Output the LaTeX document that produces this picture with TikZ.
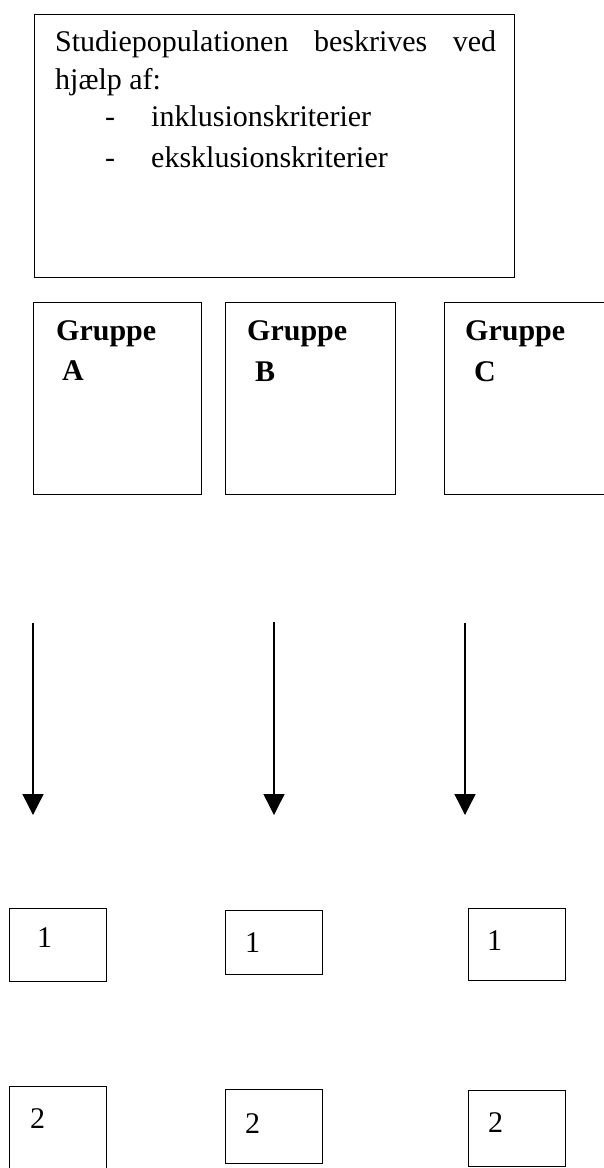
\documentclass[tikz,border=0pt]{standalone}
\usepackage{fontspec}
\setmainfont{Liberation Serif}
\usetikzlibrary{arrows.meta}
\begin{document}
\begin{tikzpicture}[x=1pt,y=-1pt,
  frame/.style={draw=black,line width=1.4pt,inner sep=0pt,anchor=north west},
  txt/.style={inner sep=0pt,anchor=base west,font=\fontsize{30}{36}\selectfont},
  head/.style={inner sep=0pt,anchor=base west,font=\fontsize{30}{36}\selectfont\bfseries},
  flow/.style={line width=1.4pt,-{Triangle[width=21pt,length=21pt]}}]
\path[use as bounding box] (0,0) rectangle (604,1168);
\begin{scope}
\clip (0,0) rectangle (604,1168);

% study population
\node[frame,minimum width=480pt,minimum height=263pt] (pop) at (34,14) {};
\node[txt] (popl1) at (55,51) {\makebox[441pt][s]{Studiepopulationen beskrives ved}};
\node[txt] (popl2) at (55,89) {hjælp af:};
\node[txt] (dash1) at (105,126) {-};
\node[txt] (incl) at (151,126) {inklusionskriterier};
\node[txt] (dash2) at (105,167) {-};
\node[txt] (excl) at (151,167) {eksklusionskriterier};

% groups
\node[frame,minimum width=168pt,minimum height=192pt] (gA) at (33,302) {};
\node[frame,minimum width=170pt,minimum height=192pt] (gB) at (225,302) {};
\node[frame,minimum width=190pt,minimum height=192pt] (gC) at (444,302) {};
\node[head] (gAt) at (56,340) {Gruppe};
\node[head] (gAl) at (62,380) {A};
\node[head] (gBt) at (247,340) {Gruppe};
\node[head] (gBl) at (255,381) {B};
\node[head] (gCt) at (465,340) {Gruppe};
\node[head] (gCl) at (474,381) {C};

% arrows
\coordinate (aS) at (33,623);  \coordinate (aE) at (33,815);
\coordinate (bS) at (274,622); \coordinate (bE) at (274,815);
\coordinate (cS) at (465,623); \coordinate (cE) at (465,815);
\draw[flow] (aS) -- (aE);
\draw[flow] (bS) -- (bE);
\draw[flow] (cS) -- (cE);

% first row of outcome boxes
\node[frame,minimum width=97pt,minimum height=73pt] (oA1) at (9,908) {};
\node[frame,minimum width=97pt,minimum height=64pt] (oB1) at (225,910) {};
\node[frame,minimum width=97pt,minimum height=72pt] (oC1) at (468,908) {};
\node[txt] (oA1t) at (37,947) {1};
\node[txt] (oB1t) at (245,952) {1};
\node[txt] (oC1t) at (487,950) {1};

% second row of outcome boxes
\node[frame,minimum width=97pt,minimum height=100pt] (oA2) at (9,1086) {};
\node[frame,minimum width=97pt,minimum height=74pt] (oB2) at (225,1089) {};
\node[frame,minimum width=97pt,minimum height=76pt] (oC2) at (468,1090) {};
\node[txt] (oA2t) at (30,1128) {2};
\node[txt] (oB2t) at (245,1133) {2};
\node[txt] (oC2t) at (488,1132) {2};
\end{scope}
\end{tikzpicture}
\end{document}
